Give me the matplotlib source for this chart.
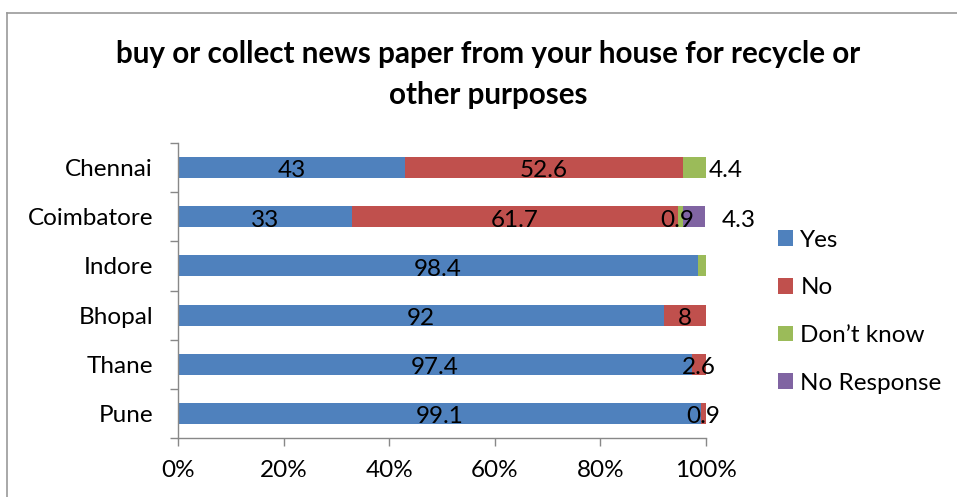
import matplotlib
matplotlib.use("Agg")
import matplotlib.pyplot as plt
from matplotlib.lines import Line2D
from matplotlib.patches import Patch
import numpy as np

categories = ["Chennai", "Coimbatore", "Indore", "Bhopal", "Thane", "Pune"]
series_names = ["Yes", "No", "Don\u2019t know", "No Response"]
yes = [43, 33, 98.4, 92, 97.4, 99.1]
no = [52.6, 61.7, 0, 8, 2.6, 0.9]
dont_know = [4.4, 0.9, 1.6, 0, 0, 0]
no_response = [0, 4.3, 0, 0, 0, 0]
xticklabels = ["0%", "20%", "40%", "60%", "80%", "100%"]
colors = ["#4F81BD", "#C0504D", "#9BBB59", "#8064A2"]

plt.rcParams['font.family'] = ['Lato', 'DejaVu Sans']

W, H = 957, 497
fig = plt.figure(figsize=(W / 100, H / 100), dpi=100)
ax = fig.add_axes([178 / W, 1 - 438 / H, (706 - 178) / W, (438 - 143) / H])

data = [yes, no, dont_know, no_response]
n = len(categories)
ypos = np.arange(n)[::-1]  # Chennai at top
left = np.zeros(n)
for vals, name, c in zip(data, series_names, colors):
    v = np.array(vals, dtype=float)
    ax.barh(ypos, v, left=left, height=0.43, color=c, label=name, zorder=2)
    left = left + v

ax.set_xlim(0, 100)
ax.set_ylim(-0.5, n - 0.5)

# data labels
fs = 17.5
label_offsets = {  # (series index, category index): x offset in data units
    (2, 0): 6.0,
    (3, 1): 8.4,
    (2, 1): -0.7,
}
skip = {(2, 2)}
for i in range(n):
    cum = 0
    for s, vals in enumerate(data):
        v = vals[i]
        if v > 0 and (s, i) not in skip:
            xc = cum + v / 2 + label_offsets.get((s, i), 0)
            ax.text(xc, ypos[i] - 0.2, f"{v:g}", ha="center", va="baseline",
                    fontsize=fs, color="black", zorder=5)
        cum += v

ax.set_yticks(ypos)
ax.set_yticklabels(categories, fontsize=fs)
ax.set_yticks(np.arange(-0.5, n, 1.0), minor=True)
ax.tick_params(axis="y", which="major", length=0, pad=18)
ax.tick_params(axis="y", which="minor", length=6, color="#888888", width=1)
ax.set_xticks(np.linspace(0, 100, 6))
ax.set_xticklabels(xticklabels, fontsize=fs)
ax.tick_params(axis="x", length=6, color="#888888", width=1, pad=10)

for sp in ["top", "right"]:
    ax.spines[sp].set_visible(False)
for sp in ["left", "bottom"]:
    ax.spines[sp].set_color("#888888")
    ax.spines[sp].set_linewidth(1)

title_lines = ["buy or collect news paper from your house for recycle or", "other purposes"]
for line, yb in zip(title_lines, [63, 104]):
    fig.text(488 / W, 1 - yb / H, line, ha="center", va="baseline",
             fontsize=21.3, fontweight="bold")

handles = [Patch(facecolor=c, edgecolor="none") for c in colors]
leg = fig.legend(handles, series_names, loc="upper left",
                 bbox_to_anchor=(778 / W, 1 - 229.5 / H), frameon=False,
                 fontsize=fs, handlelength=0.62, handleheight=0.62,
                 handletextpad=0.3, labelspacing=1.1, borderaxespad=0,
                 borderpad=0)

# outer chart frame
fig.add_artist(Line2D([7 / W, 7 / W], [0, 1 - 12.5 / H], transform=fig.transFigure,
                      color="#999999", lw=1.2))
fig.add_artist(Line2D([7 / W, 1], [1 - 12.5 / H, 1 - 12.5 / H], transform=fig.transFigure,
                      color="#999999", lw=1.2))

fig.savefig("out.png", dpi=100)
